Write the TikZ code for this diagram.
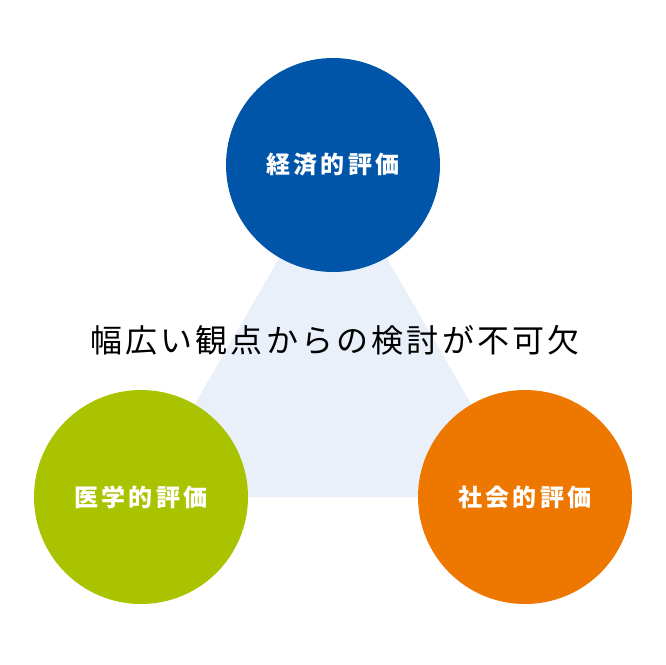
\documentclass[tikz,border=0pt]{standalone}
\usepackage{fontspec}
\setmainfont{Noto Sans CJK JP}
\usepackage{tikz}
\usetikzlibrary{positioning, calc}

\definecolor{econblue}{HTML}{0055A8}
\definecolor{medgreen}{HTML}{A9C300}
\definecolor{socorange}{HTML}{EE7700}
\definecolor{trifill}{HTML}{EAF0FA}

\tikzset{
    evalcircle/.style={circle, minimum size=214pt, inner sep=0pt, text=white,
        font=\fontsize{24pt}{28pt}\selectfont\bfseries\addfontfeature{LetterSpace=14}},
}

\begin{document}
\begin{tikzpicture}[x=1pt,y=-1pt]
            \useasboundingbox (0,0) rectangle (666,664);

            % Centres
            \coordinate (econ) at (333,165);
            \coordinate (med) at (141,497);
            \coordinate (soc) at (525,497);

            % Triangle
            \fill[trifill] (econ) -- (med) -- (soc) -- cycle;

            % Circles
            \node[evalcircle, fill=econblue] (econnode) at (econ) {経済的評価};
            \node[evalcircle, fill=medgreen] (mednode) at (med) {医学的評価};
            \node[evalcircle, fill=socorange] (socnode) at (soc) {社会的評価};

            % Title
            \node[font=\fontsize{32pt}{36pt}\selectfont\addfontfeature{LetterSpace=10}] (title) at (335,340) {幅広い観点からの検討が不可欠};
        \end{tikzpicture}
\end{document}
